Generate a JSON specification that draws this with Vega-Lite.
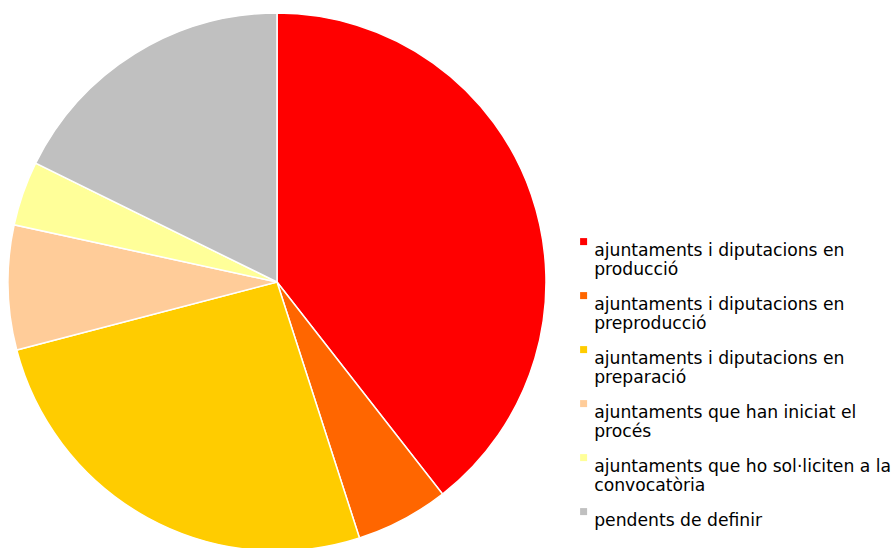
{
  "$schema": "https://vega.github.io/schema/vega-lite/v6.json",
  "width": 554,
  "height": 548,
  "autosize": {"type": "none"},
  "padding": {"top": 0, "left": 0, "right": 342, "bottom": 0},
  "background": "white",
  "config": {"view": {"stroke": null}},
  "data": {
    "values": [
      {"categoria": "ajuntaments i diputacions en producció", "percent": 39.45, "ordre": 1},
      {"categoria": "ajuntaments i diputacions en preproducció", "percent": 5.59, "ordre": 2},
      {"categoria": "ajuntaments i diputacions en preparació", "percent": 25.89, "ordre": 3},
      {"categoria": "ajuntaments que han iniciat el procés", "percent": 7.48, "ordre": 4},
      {"categoria": "ajuntaments que ho sol·liciten a la convocatòria", "percent": 3.87, "ordre": 5},
      {"categoria": "pendents de definir", "percent": 17.72, "ordre": 6}
    ]
  },
  "mark": {"type": "arc", "radius": 269, "yOffset": 8, "stroke": "white", "strokeWidth": 1.5},
  "encoding": {
    "theta": {"field": "percent", "type": "quantitative", "stack": true},
    "order": {"field": "ordre", "type": "quantitative"},
    "color": {
      "field": "categoria",
      "type": "nominal",
      "scale": {
        "domain": [
          "ajuntaments i diputacions en producció",
          "ajuntaments i diputacions en preproducció",
          "ajuntaments i diputacions en preparació",
          "ajuntaments que han iniciat el procés",
          "ajuntaments que ho sol·liciten a la convocatòria",
          "pendents de definir"
        ],
        "range": ["#FF0000", "#FF6600", "#FFCC00", "#FFCC99", "#FFFF99", "#C0C0C0"]
      },
      "legend": {
        "title": null,
        "orient": "none",
        "legendX": 575,
        "legendY": 233,
        "padding": 0,
        "symbolType": "square",
        "symbolSize": 49,
        "symbolStrokeWidth": 0,
        "labelFont": "DejaVu Sans",
        "labelFontSize": 17.2,
        "labelColor": "#000000",
        "labelOffset": 2,
        "labelLimit": 400,
        "labelBaseline": "top",
        "rowPadding": 9,
        "labelExpr": "length(datum.label) > 30 ? [substring(datum.label, 0, lastindexof(substring(datum.label, 0, 36), ' ')), substring(datum.label, lastindexof(substring(datum.label, 0, 36), ' ') + 1)] : datum.label",
        "encode": {
          "labels": {"lineHeight": {"value": 20}},
          "symbols": {"y": {"value": {"expr": "datum.size * 0.5 + 8"}}}
        }
      }
    }
  }
}
